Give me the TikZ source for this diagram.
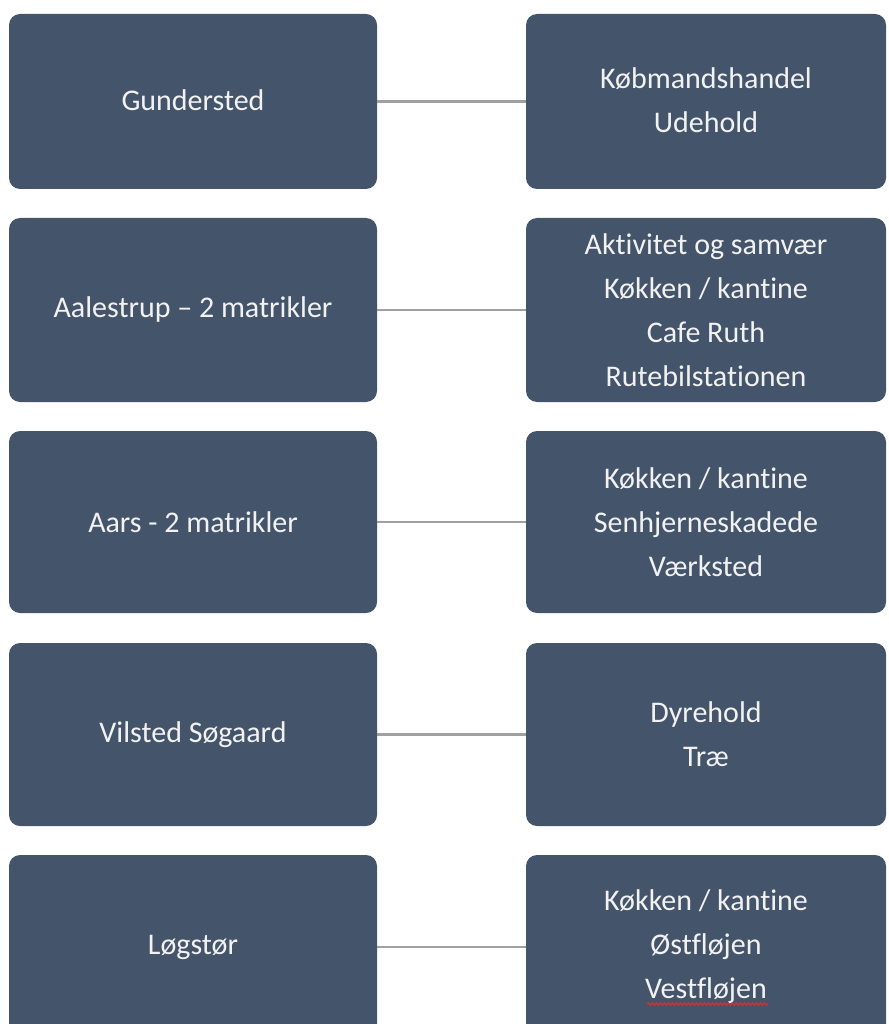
\documentclass[tikz,border=0pt]{standalone}
\usepackage{fontspec}
\setmainfont{Carlito}[Ligatures=NoCommon]
\usetikzlibrary{decorations.pathmorphing}
\definecolor{boxblue}{HTML}{44546A}
\definecolor{linkgray}{HTML}{A0A0A0}
\definecolor{squigred}{HTML}{D83030}
\begin{document}
\begin{tikzpicture}[x=1pt,y=-1pt,
  box/.style={fill=boxblue, rounded corners=11pt, text=white!95!black,
    font=\fontsize{30}{44}\selectfont, align=center, inner sep=0pt},
  lbox/.style={box, minimum width=368pt},
  rbox/.style={box, minimum width=360pt},
  link/.style={draw=linkgray, line width=2.8pt}]
\useasboundingbox (0,0) rectangle (888,1024);
\clip (0,0) rectangle (888,1024);
% row 1
\node[lbox, minimum height=175pt] (L1) at (193,101.5) {\raisebox{3.5pt}{Gundersted}};
\node[rbox, minimum height=175pt] (R1) at (706,101.5) {\raisebox{2.5pt}{\begin{tabular}{@{}c@{}}Købmandshandel\\Udehold\end{tabular}}};
% row 2
\node[lbox, minimum height=184pt] (L2) at (193,310) {Aalestrup – 2 matrikler};
\node[rbox, minimum height=184pt] (R2) at (706,310) {Aktivitet og samvær\\Køkken / kantine\\Cafe Ruth\\Rutebilstationen};
% row 3
\node[lbox, minimum height=182pt] (L3) at (193,522) {Aars - 2 matrikler};
\node[rbox, minimum height=182pt] (R3) at (706,522) {Køkken / kantine\\Senhjerneskadede\\Værksted};
% row 4
\node[lbox, minimum height=183pt] (L4) at (193,734.5) {Vilsted Søgaard};
\node[rbox, minimum height=183pt] (R4) at (706,734.5) {Dyrehold\\Træ};
% row 5
\node[lbox, minimum height=184pt] (L5) at (193,947) {Løgstør};
\node[rbox, minimum height=184pt] (R5) at (706,947) {Køkken / kantine\\Østfløjen\\Vestfløjen};
% connectors
\draw[link] (L1.east) -- (R1.west);
\draw[link] (L2.east) -- (R2.west);
\draw[link] (L3.east) -- (R3.west);
\draw[link] (L4.east) -- (R4.west);
\draw[link] (L5.east) -- (R5.west);
% spell-check squiggle
\draw[squigred, line width=1.1pt, decorate, decoration={snake, amplitude=1.4pt, segment length=4pt}] (647,1004) -- (768,1004);
\end{tikzpicture}
\end{document}
